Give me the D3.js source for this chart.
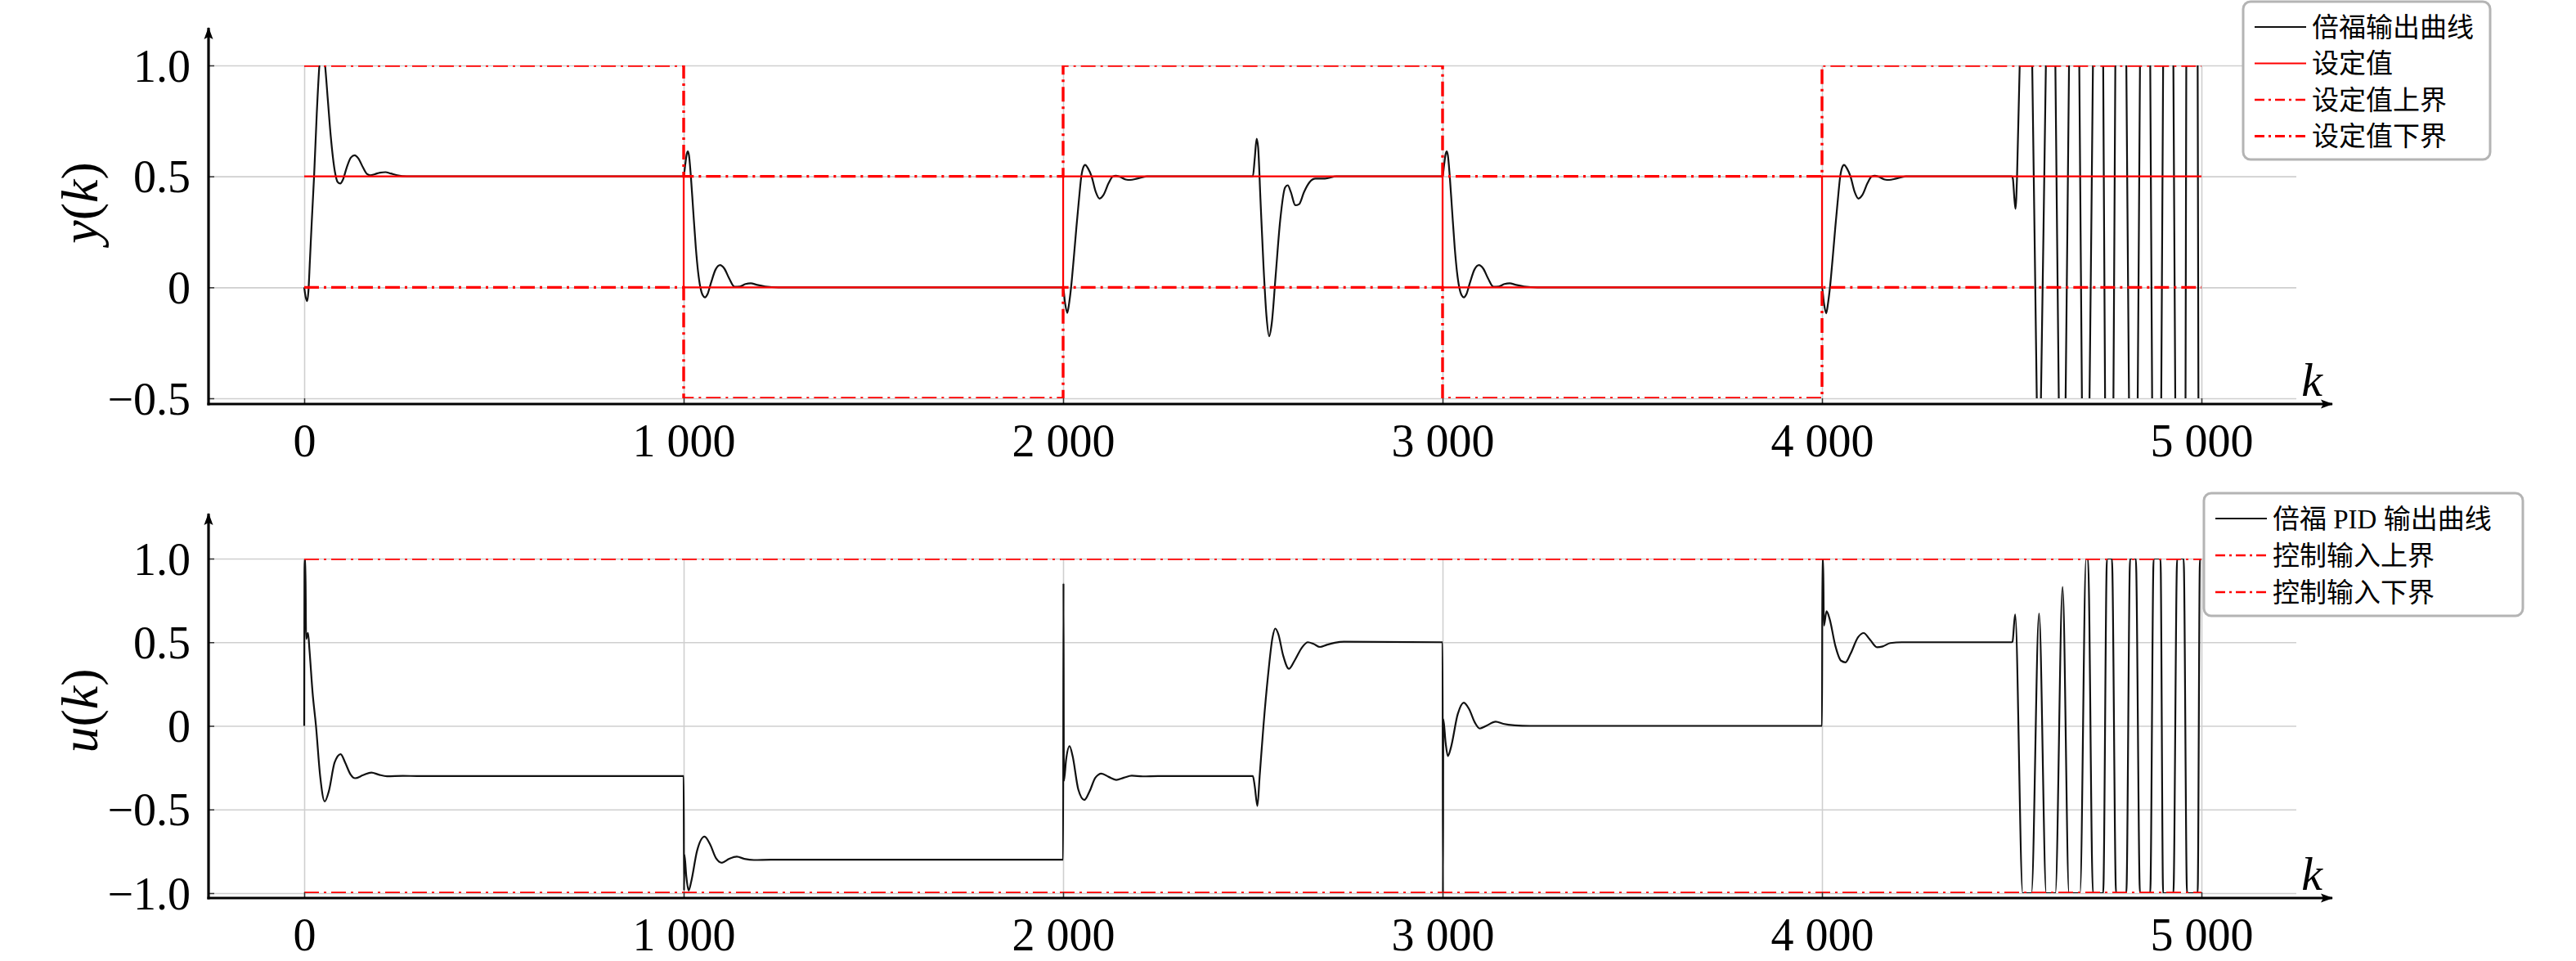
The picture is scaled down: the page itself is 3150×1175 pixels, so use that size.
<!DOCTYPE html>
<html lang="zh">
<head>
<meta charset="UTF-8">
<title>倍福 PID 输出</title>
<style>
  body { margin: 0; background: #fff; }
  svg { display: block; }
  text { font-family: "Liberation Serif", "Noto Sans CJK SC", serif; fill: #000; }
</style>
</head>
<body>
<svg width="3150" height="1175"></svg>
<script src="https://d3js.org/d3.v7.min.js"></script>
<script>
// ---- data ----
const xTicks = [0, 1000, 2000, 3000, 4000, 5000];
const yTicksTop = [-0.5, 0, 0.5, 1.0];
const yTicksBot = [-1.0, -0.5, 0, 0.5, 1.0];

// setpoint and its bounds (step after each k)
const stepK = [0, 1000, 2000, 3000, 4000, 5000];
const setpoint = [0.5, 0, 0.5, 0, 0.5, 0.5];
const upperBound = [1.0, 0.5, 1.0, 0.5, 1.0, 1.0];
const lowerBound = [0, -0.5, 0, -0.5, 0, 0];

// control input bounds
const uBoundK = [0, 5000];
const uUpper = [1.0, 1.0];
const uLower = [-1.0, -1.0];

// plant output y(k)
const yOut = [
  [0,0],[4,-0.045],[8,-0.062],[11,-0.02],[15,0.12],[20,0.3],[26,0.5],[33,0.78],[40,1.0],[47,1.1],[55,1.0],
  [62,0.85],[70,0.68],[81,0.52],[88,0.475],[95,0.468],[102,0.485],[112,0.54],[123,0.585],[133,0.595],
  [143,0.58],[155,0.54],[166,0.51],[174,0.505],[186,0.51],[200,0.517],[214,0.519],[228,0.513],[245,0.505],
  [270,0.5],[1000,0.5],
  [1004,0.55],[1008,0.6],[1011,0.613],[1014,0.595],[1019,0.5],[1025,0.35],[1032,0.18],[1038,0.07],[1044,0.0],
  [1050,-0.035],[1056,-0.045],[1063,-0.03],[1072,0.02],[1084,0.08],[1096,0.10],[1107,0.085],[1120,0.04],
  [1134,0.003],[1148,0.004],[1163,0.015],[1177,0.018],[1192,0.012],[1215,0.004],[1250,0],[2000,0],
  [2005,-0.07],[2011,-0.115],[2016,-0.07],[2021,0],[2028,0.13],[2035,0.27],[2042,0.4],[2048,0.5],[2053,0.54],
  [2058,0.552],[2066,0.535],[2075,0.5],[2086,0.43],[2096,0.40],[2106,0.415],[2120,0.47],[2131,0.5],[2139,0.503],
  [2150,0.498],[2165,0.486],[2177,0.484],[2195,0.49],[2221,0.5],[2500,0.5],
  [2505,0.58],[2510,0.67],[2514,0.63],[2520,0.4],[2528,0.1],[2536,-0.13],[2543,-0.22],[2550,-0.16],[2560,0.05],
  [2572,0.3],[2585,0.45],[2592,0.46],[2600,0.43],[2612,0.37],[2622,0.375],[2635,0.43],[2650,0.475],[2665,0.49],
  [2690,0.49],[2720,0.5],[3000,0.5],
  [3004,0.55],[3008,0.6],[3011,0.613],[3014,0.595],[3019,0.5],[3025,0.35],[3032,0.18],[3038,0.07],[3044,0.0],
  [3050,-0.035],[3056,-0.045],[3063,-0.03],[3072,0.02],[3084,0.08],[3096,0.10],[3107,0.085],[3120,0.04],
  [3134,0.003],[3148,0.004],[3163,0.015],[3177,0.018],[3192,0.012],[3215,0.004],[3250,0],[4000,0],
  [4005,-0.07],[4011,-0.117],[4016,-0.07],[4021,0],[4028,0.13],[4035,0.27],[4042,0.4],[4048,0.5],[4053,0.54],
  [4058,0.552],[4066,0.535],[4075,0.5],[4086,0.43],[4096,0.40],[4106,0.415],[4120,0.47],[4131,0.5],[4139,0.503],
  [4150,0.498],[4165,0.486],[4177,0.484],[4195,0.49],[4221,0.5],[4500,0.5],
  [4503,0.49],[4507,0.4],[4510,0.354],[4512,0.4],[4514,0.5],[4521,1.0],[4537,1.5],[4554,1.0],[4566,-0.5],
  [4571,-0.7],[4577,-0.5],[4590,1.0],[4602,1.5],[4615,1.0],[4624,-0.5],[4633,-0.8],[4642,-0.5],[4651,1.0],
  [4664,1.6],[4678,1.0],[4685,-0.5],[4695,-0.9],[4705,-0.5],[4714,1.0],[4727,1.7],[4741,1.0],[4746,-0.5],
  [4757,-1.0],[4768,-0.5],[4773,1.0],[4787,1.8],[4802,1.0],[4809,-0.5],[4820,-1.0],[4832,-0.5],[4838,1.0],
  [4851,1.8],[4865,1.0],[4870,-0.5],[4882,-1.0],[4894,-0.5],[4899,1.0],[4912,1.8],[4926,1.0],[4931,-0.5],
  [4944,-1.0],[4958,-0.5],[4960,1.0],[4975,1.8],[4990,1.0],[4992,-0.5],[5000,-1.2]
];

// controller output u(k)
const uOut = [
  [0,0],[1,1.0],[3,1.0],[5,0.52],[10,0.556],[14,0.45],[22,0.2],[31,0],[42,-0.3],[54,-0.452],[65,-0.39],
  [80,-0.22],[96,-0.169],[108,-0.22],[122,-0.29],[134,-0.313],[155,-0.295],[177,-0.279],[198,-0.293],
  [218,-0.301],[260,-0.299],[300,-0.3],[1000,-0.3],
  [1001,-0.985],[1002,-0.77],[1007,-0.9],[1013,-0.984],[1020,-0.93],[1035,-0.75],[1055,-0.662],[1070,-0.71],
  [1085,-0.79],[1101,-0.818],[1120,-0.795],[1140,-0.782],[1160,-0.795],[1185,-0.802],[1230,-0.8],[2000,-0.8],
  [2001,0.852],[2002,-0.33],[2008,-0.2],[2017,-0.121],[2025,-0.18],[2040,-0.38],[2056,-0.443],[2070,-0.39],
  [2085,-0.31],[2101,-0.285],[2120,-0.305],[2140,-0.323],[2160,-0.31],[2181,-0.298],[2210,-0.302],[2250,-0.3],
  [2500,-0.3],
  [2505,-0.36],[2512,-0.479],[2518,-0.3],[2528,0],[2540,0.3],[2552,0.53],[2559,0.582],[2567,0.55],[2580,0.42],
  [2595,0.341],[2610,0.39],[2630,0.47],[2645,0.5],[2660,0.49],[2677,0.472],[2695,0.485],[2716,0.497],
  [2740,0.503],[3000,0.5],
  [3001,-1.0],[3002,0.04],[3008,-0.1],[3014,-0.18],[3022,-0.13],[3040,0.07],[3056,0.139],[3070,0.1],[3085,0.02],
  [3098,-0.016],[3115,0.0],[3140,0.025],[3160,0.012],[3190,0.003],[3230,0],[4000,0],
  [4001,1.0],[4003,1.0],[4005,0.6],[4012,0.685],[4020,0.64],[4035,0.48],[4050,0.39],[4062,0.38],[4075,0.43],
  [4095,0.53],[4110,0.555],[4125,0.52],[4145,0.47],[4160,0.475],[4180,0.495],[4210,0.5],[4500,0.5],
  [4502,0.503],[4509,0.667],[4529,-1.0],[4552,-1.0],[4572,0.672],[4591,-1.0],[4615,-1.0],[4634,0.831],
  [4651,-1.0],[4680,-1.0],[4696,1.0],[4701,1.0],[4714,-1.0],[4741,-1.0],[4751,1.0],[4764,1.0],[4775,-1.0],
  [4802,-1.0],[4812,1.0],[4827,1.0],[4838,-1.0],[4865,-1.0],[4874,1.0],[4892,1.0],[4899,-1.0],[4926,-1.0],
  [4936,1.0],[4953,1.0],[4962,-1.0],[4990,-1.0],[4996,1.0],[5000,1.0]
];

const legendTop = ["倍福输出曲线", "设定值", "设定值上界", "设定值下界"];
const legendBot = ["倍福 PID 输出曲线", "控制输入上界", "控制输入下界"];

// ---- drawing ----
const svg = d3.select("svg");
const FS = 56;
const dashDot = "18,6,3,6";
const x = d3.scaleLinear().domain([-250, 5250]).range([256, 2808]);
const xLeft = 255, xEnd = 2808, xArrow = 2852;

const defs = svg.append("defs");
defs.append("marker")
    .attr("id", "arrow")
    .attr("viewBox", "0 -6 16 12")
    .attr("refX", 14).attr("refY", 0)
    .attr("markerWidth", 16).attr("markerHeight", 12)
    .attr("markerUnits", "userSpaceOnUse")
    .attr("orient", "auto")
  .append("path")
    .attr("d", "M0,-5.5L15,0L0,5.5L3,0Z")
    .attr("fill", "#000");

const fmtX = d => d === 0 ? "0" : d3.format(",")(d).replace(/,/g, "\u00a0");
const fmtY = d => d === 0 ? "0" : d3.format(".1f")(d);

function panel(opt) {
  const y = d3.scaleLinear().domain(opt.domain).range(opt.range);
  const g = svg.append("g");
  const top = opt.range[1];

  // plot area clip: marks on the limits get cut in half, as in the original
  defs.append("clipPath").attr("id", "clip-" + opt.id)
    .append("rect")
      .attr("x", x(-250)).attr("width", xEnd - x(-250))
      .attr("y", top).attr("height", opt.range[0] - top);

  // grid
  g.append("g")
      .attr("transform", `translate(${xLeft},0)`)
      .call(d3.axisLeft(y).tickValues(opt.ticks).tickSize(-(xEnd - xLeft)).tickFormat(""))
      .call(s => s.select(".domain").remove())
      .call(s => s.selectAll("line").attr("stroke", "#cfcfcf").attr("stroke-width", 1.6));
  g.append("g")
      .attr("transform", `translate(0,${opt.axisY})`)
      .call(d3.axisBottom(x).tickValues(xTicks).tickSize(-(opt.axisY - top)).tickFormat(""))
      .call(s => s.select(".domain").remove())
      .call(s => s.selectAll("line").attr("stroke", "#cfcfcf").attr("stroke-width", 1.6));

  const line = d3.line().x(d => x(d[0])).y(d => y(d[1])).curve(d3.curveMonotoneX);
  const step = d3.line().x(d => x(d[0])).y(d => y(d[1])).curve(d3.curveStepAfter);

  // output curve
  g.append("path")
      .datum(opt.curve)
      .attr("clip-path", `url(#clip-${opt.id})`)
      .attr("fill", "none")
      .attr("stroke", "#111")
      .attr("stroke-width", 2.2)
      .attr("stroke-linejoin", "round")
      .attr("d", line);

  // red references
  opt.refs.forEach(r => {
    g.append("path")
        .datum(r.k.map((k, i) => [k, r.v[i]]))
        .attr("clip-path", `url(#clip-${opt.id})`)
        .attr("fill", "none")
        .attr("stroke", "#f00")
        .attr("stroke-width", r.w)
        .attr("stroke-dasharray", r.dash || null)
        .attr("d", step);
  });

  // axes with ticks and labels
  g.append("g")
      .attr("transform", `translate(0,${opt.axisY})`)
      .call(d3.axisBottom(x).tickValues(xTicks).tickSize(-7).tickFormat(fmtX))
      .call(s => s.select(".domain").remove())
      .call(s => s.selectAll("line").attr("stroke", "#333").attr("stroke-width", 1.5))
      .call(s => s.selectAll("text").attr("y", 64).attr("dy", 0)
                  .attr("font-size", FS).attr("font-family", "Liberation Serif").attr("fill", "#000"));
  g.append("g")
      .attr("transform", `translate(${xLeft},0)`)
      .call(d3.axisLeft(y).tickValues(opt.ticks).tickSize(-7).tickPadding(22).tickFormat(fmtY))
      .call(s => s.select(".domain").remove())
      .call(s => s.selectAll("line").attr("stroke", "#333").attr("stroke-width", 1.5))
      .call(s => s.selectAll("text").attr("dy", "0.34em")
                  .attr("font-size", FS).attr("font-family", "Liberation Serif").attr("fill", "#000"));

  g.append("line")
      .attr("x1", xLeft - 1.5).attr("x2", xArrow)
      .attr("y1", opt.axisY).attr("y2", opt.axisY)
      .attr("stroke", "#000").attr("stroke-width", 3.2)
      .attr("marker-end", "url(#arrow)");
  g.append("line")
      .attr("x1", xLeft).attr("x2", xLeft)
      .attr("y1", opt.axisY + 1.5).attr("y2", opt.arrowTop)
      .attr("stroke", "#000").attr("stroke-width", 3.2)
      .attr("marker-end", "url(#arrow)");

  // axis titles
  g.append("text")
      .attr("x", 2827).attr("y", opt.axisY - 10)
      .attr("text-anchor", "middle")
      .attr("font-size", FS + 2).attr("font-style", "italic")
      .text("k");
  const t = g.append("text")
      .attr("transform", `translate(119,${opt.labelY}) rotate(-90)`)
      .attr("text-anchor", "middle")
      .attr("font-size", 64);
  t.append("tspan").attr("font-style", "italic").text(opt.label);
  t.append("tspan").text("(");
  t.append("tspan").attr("font-style", "italic").text("k");
  t.append("tspan").text(")");

  // legend
  const L = opt.legend;
  const lg = svg.append("g");
  lg.append("rect")
      .attr("x", L.x).attr("y", L.y).attr("width", L.w).attr("height", L.h)
      .attr("rx", 9).attr("fill", "#fff")
      .attr("stroke", "#b4b4b4").attr("stroke-width", 3);
  L.items.forEach((it, i) => {
    const cy = L.y + L.first + i * L.gap;
    lg.append("line")
        .attr("x1", L.x + 14).attr("x2", L.x + 77)
        .attr("y1", cy).attr("y2", cy)
        .attr("stroke", it.color).attr("stroke-width", it.w)
        .attr("stroke-dasharray", it.dash || null);
    lg.append("text")
        .attr("x", L.x + 84).attr("y", cy)
        .attr("dy", "0.36em")
        .attr("font-size", 33)
        .text(it.label);
  });
}

panel({
  id: "top",
  domain: [-0.5, 1.0], range: [487, 80], axisY: 494, arrowTop: 34,
  ticks: yTicksTop, label: "y", labelY: 248,
  curve: yOut,
  refs: [
    { k: stepK, v: setpoint, w: 2.2 },
    { k: stepK, v: upperBound, w: 3.4, dash: dashDot },
    { k: stepK, v: lowerBound, w: 3.4, dash: dashDot }
  ],
  legend: {
    x: 2743, y: 2, w: 302, h: 193, first: 31, gap: 44.5,
    items: [
      { label: legendTop[0], color: "#111", w: 2 },
      { label: legendTop[1], color: "#f00", w: 2 },
      { label: legendTop[2], color: "#f00", w: 2.4, dash: "12,5,3,5" },
      { label: legendTop[3], color: "#f00", w: 3.2, dash: "12,5,3,5" }
    ]
  }
});

panel({
  id: "bot",
  domain: [-1.0, 1.0], range: [1092, 683], axisY: 1098, arrowTop: 628,
  ticks: yTicksBot, label: "u", labelY: 869,
  curve: uOut,
  refs: [
    { k: uBoundK, v: uUpper, w: 3.4, dash: dashDot },
    { k: uBoundK, v: uLower, w: 3.4, dash: dashDot }
  ],
  legend: {
    x: 2695, y: 603, w: 390, h: 150, first: 31, gap: 45,
    items: [
      { label: legendBot[0], color: "#111", w: 2 },
      { label: legendBot[1], color: "#f00", w: 2.4, dash: "12,5,3,5" },
      { label: legendBot[2], color: "#f00", w: 2.4, dash: "12,5,3,5" }
    ]
  }
});
</script>
</body>
</html>
